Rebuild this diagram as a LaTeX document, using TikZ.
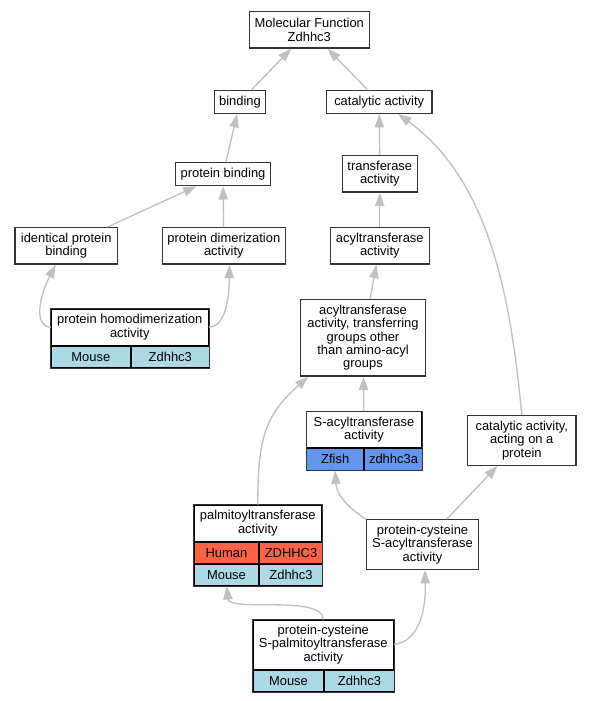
\documentclass[tikz,border=0pt]{standalone}
\usepackage{fontspec}
\setmainfont{Liberation Sans}
\usetikzlibrary{arrows.meta,calc}
\definecolor{edgegray}{RGB}{192,192,192}
\definecolor{mouseblue}{RGB}{173,216,230}
\definecolor{humanred}{RGB}{255,99,71}
\definecolor{zfishblue}{RGB}{100,149,237}
\tikzset{
  term/.style={draw=black!80, line width=1.05pt, fill=white, align=center, inner sep=0pt,
    font=\fontsize{9.7pt}{10pt}\selectfont},
  cellterm/.style={draw=black, line width=0.75pt, fill=white, align=center, inner sep=0pt,
    font=\fontsize{9.7pt}{10pt}\selectfont},
  cell/.style={draw=black, line width=0.75pt, inner sep=0pt, minimum height=16pt, anchor=north west,
    font=\fontsize{9.7pt}{10pt}\selectfont},
  mouse/.style={cell, fill=mouseblue},
  human/.style={cell, fill=humanred},
  zfish/.style={cell, fill=zfishblue},
  frame/.style={draw=black!80, line width=0.95pt},
  isa/.style={draw=edgegray, line width=1pt, -{Triangle[length=10pt,width=7pt]}}
}
\begin{document}
\begin{tikzpicture}[x=0.75pt,y=0.75pt,yscale=-1,xscale=1]
\useasboundingbox (0,0) rectangle (592,701);

% Term Nodes
\node[term, minimum width=90pt, minimum height=27.2pt] (mf) at (309.3,29.9) {Molecular Function\\Zdhhc3};
\node[term, minimum width=38.55pt, minimum height=17.25pt] (binding) at (240,101.8) {binding};
\node[term, minimum width=79.3pt, minimum height=17.25pt] (catact) at (379.2,101.8) {catalytic activity};
\node[term, minimum width=71pt, minimum height=17.25pt] (protbind) at (223,174) {protein binding};
\node[term, minimum width=56.25pt, minimum height=27.5pt] (transf) at (379.8,173.8) {transferase\\activity};
\node[term, minimum width=76.7pt, minimum height=27.2pt] (identbind) at (66.2,245.9) {identical protein\\binding};
\node[term, minimum width=92.25pt, minimum height=27.2pt] (protdimer) at (223.8,245.9) {protein dimerization\\activity};
\node[term, minimum width=74.25pt, minimum height=27.2pt] (acyltr) at (379.8,245.9) {acyltransferase\\activity};
\node[term, minimum width=93.45pt, minimum height=57.5pt] (acylgrp) at (363,337.7) {acyltransferase\\activity, transferring\\groups other\\than amino-acyl\\groups};
\node[term, minimum width=81.2pt, minimum height=37.2pt] (catprot) at (521.8,440.5) {catalytic activity,\\acting on a\\protein};
\node[term, minimum width=84.3pt, minimum height=37.2pt] (pcsacyl) at (422.5,544.5) {protein-cysteine\\S-acyltransferase\\activity};

% Term Nodes with genes
\node[cellterm, minimum width=117.75pt, minimum height=27.2pt] (homodim) at (129.8,327.2) {protein homodimerization\\activity};
\node[mouse, minimum width=59.25pt] (homodimsp) at (homodim.south west) {Mouse};
\node[mouse, minimum width=58.5pt] (homodimgn) at (homodimsp.north east) {Zdhhc3};
\draw[frame] (homodim.north west) rectangle (homodimgn.south east);

\node[cellterm, minimum width=85.95pt, minimum height=27pt] (sacyl) at (364,429.7) {S-acyltransferase\\activity};
\node[zfish, minimum width=42.75pt] (sacylsp) at (sacyl.south west) {Zfish};
\node[zfish, minimum width=43.2pt] (sacylgn) at (sacylsp.north east) {zdhhc3a};
\draw[frame] (sacyl.north west) rectangle (sacylgn.south east);

\node[cellterm, minimum width=95.25pt, minimum height=27pt] (palmit) at (257.8,523) {palmitoyltransferase\\activity};
\node[human, minimum width=48.3pt] (palmithssp) at (palmit.south west) {Human};
\node[human, minimum width=46.95pt] (palmithsgn) at (palmithssp.north east) {ZDHHC3};
\node[mouse, minimum width=48.3pt] (palmitmssp) at (palmithssp.south west) {Mouse};
\node[mouse, minimum width=46.95pt] (palmitmsgn) at (palmitmssp.north east) {Zdhhc3};
\draw[frame] (palmit.north west) rectangle (palmitmsgn.south east);

\node[cellterm, minimum width=105pt, minimum height=36.75pt] (pcspalm) at (323.3,644.5) {protein-cysteine\\S-palmitoyltransferase\\activity};
\node[mouse, minimum width=52.8pt, minimum height=16.3pt] (pcspalmsp) at (pcspalm.south west) {Mouse};
\node[mouse, minimum width=52.2pt, minimum height=16.3pt] (pcspalmgn) at (pcspalmsp.north east) {Zdhhc3};
\draw[frame] (pcspalm.north west) rectangle (pcspalmgn.south east);

%Straight Lines
\draw[isa] (binding) -- (mf);
\draw[isa] (catact) -- (mf);
\draw[isa] (protbind) -- (binding);
\draw[isa] (identbind) -- (protbind);
\draw[isa] (protdimer) -- (protbind);
\draw[isa] (transf) -- (catact);
\draw[isa] (acyltr) -- (transf);
\draw[isa] (acylgrp) -- (acyltr);
\draw[isa] (sacyl) -- (acylgrp);
\draw[isa] (pcsacyl) -- (catprot);

%Curve Lines
\draw[isa] (homodim.west) .. controls +(-16,0) and +(-18,35) .. ($(identbind.south)+(-10.5,0)$);
\draw[isa] (homodim.east) .. controls +(16,0) and +(0,35) .. ($(protdimer.south)+(5.5,0)$);
\draw[isa] (catprot.north) .. controls +(-11,-116) and +(92,67) .. ($(catact.south)+(19,0)$);
\draw[isa] (palmit.north) .. controls +(0,-65) and +(-44,39) .. ($(acylgrp.south west)+(8.3,0)$);
\draw[isa] (pcsacyl.north west) .. controls +(-22,-14) and +(1,21) .. (sacylsp.south);
\draw[isa] (pcspalm.north) .. controls +(0,-25) and +(3,26) .. (palmitmssp.south);
\draw[isa] (pcspalm.east) .. controls +(25,-3) and +(1,41) .. ($(pcsacyl.south)+(2.5,0)$);
\end{tikzpicture}
\end{document}
